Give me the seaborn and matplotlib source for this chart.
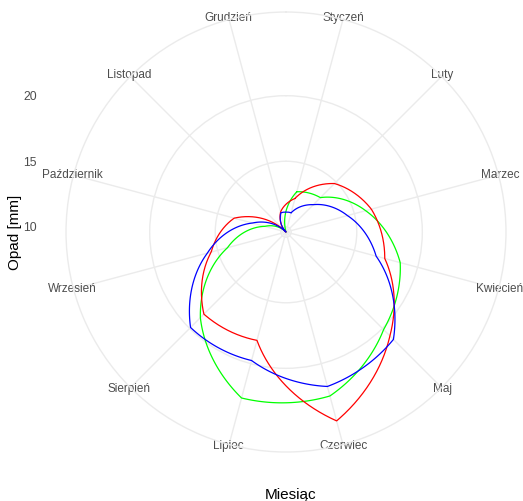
import numpy as np
import pandas as pd
import matplotlib
matplotlib.use("Agg")
import matplotlib.pyplot as plt
import seaborn as sns

# Miesięczne opady [mm] (trzy serie)
miesiace = ['Styczeń', 'Luty', 'Marzec', 'Kwiecień', 'Maj', 'Czerwiec',
            'Lipiec', 'Sierpień', 'Wrzesień', 'Październik', 'Listopad', 'Grudzień']
opad_czerwony = [12.25, 14.83, 16.34, 17.40, 20.81, 24.52,
                 18.16, 18.46, 15.51, 13.69, 9.60, 11.19]
opad_niebieski = [11.12, 12.55, 14.45, 16.72, 21.19, 21.80,
                  19.75, 19.90, 15.81, 12.25, 9.60, 11.12]
opad_zielony = [12.78, 13.31, 15.89, 18.62, 20.13, 22.55,
                22.71, 18.84, 14.22, 11.27, 9.60, 9.60]
r_ticks = [10, 15, 20]

serie = {'zielony': opad_zielony, 'czerwony': opad_czerwony, 'niebieski': opad_niebieski}
kolory = {'czerwony': '#FF0000', 'niebieski': '#0000FF', 'zielony': '#00FF00'}

sns.set_theme(style='white')
plt.rcParams['font.family'] = ['Liberation Sans', 'DejaVu Sans']

# tabela w formacie długim, pętla domknięta powrotem do stycznia
krok = 2 * np.pi / len(miesiace)
rows = []
for nazwa, wartosci in serie.items():
    for i in range(len(miesiace) + 1):
        rows.append({'seria': nazwa,
                     'miesiac': miesiace[i % 12],
                     'kat': (i + 0.5) * krok,
                     'opad': wartosci[i % 12]})
df = pd.DataFrame(rows)

fig = plt.figure(figsize=(5.23, 5.01), dpi=100)
ax = fig.add_axes([0.1262, 0.0978, 0.8413, 0.8782], projection='polar')
ax.set_theta_zero_location('N')
ax.set_theta_direction(-1)

sns.lineplot(data=df, x='kat', y='opad', hue='seria', palette=kolory,
             sort=False, estimator=None, legend=False, linewidth=0.9, ax=ax)

# linie interpolowane we współrzędnych biegunowych (jak coord_polar)
for line in ax.lines:
    line.get_path()._interpolation_steps = 80

rmin = df['opad'].min()
rmax = df['opad'].max()
rtop = rmin + (rmax - rmin) * 0.45 / 0.4
ax.set_ylim(rmin, rtop)

ax.set_xticks([(i + 0.5) * krok for i in range(len(miesiace))])
ax.set_xticklabels(miesiace)
ax.tick_params(axis='x', pad=-12, labelsize=8.5, colors='#4d4d4d')
ax.set_yticks(r_ticks)
ax.set_yticklabels([])
ax.set_xlabel('')
ax.set_ylabel('')
ax.grid(True, color='#ebebeb', linewidth=1.0)
ax.spines['polar'].set_edgecolor('#ebebeb')
ax.spines['polar'].set_linewidth(1.0)

# oś opadu po lewej stronie, jak w ggplot
ax_r = fig.add_axes(ax.get_position(), frameon=False)
span = rtop - rmin
ax_r.set_yticks([t - rmin for t in r_ticks])
ax_r.set_yticklabels([str(t) for t in r_ticks])
ax_r.set_ylim(-span, span)
ax_r.set_xticks([])
ax_r.tick_params(axis='y', length=0, pad=21, labelsize=8.8, labelcolor='#4d4d4d')
ax_r.set_ylabel('Opad [mm]', fontsize=11, color='black')
ax_r.yaxis.set_label_coords(-0.1, 0.5)
ax_r.set_xlabel('Miesiąc', fontsize=11, color='black')
ax_r.xaxis.set_label_coords(0.51, -0.082)

fig.savefig('out.png', dpi=100)
